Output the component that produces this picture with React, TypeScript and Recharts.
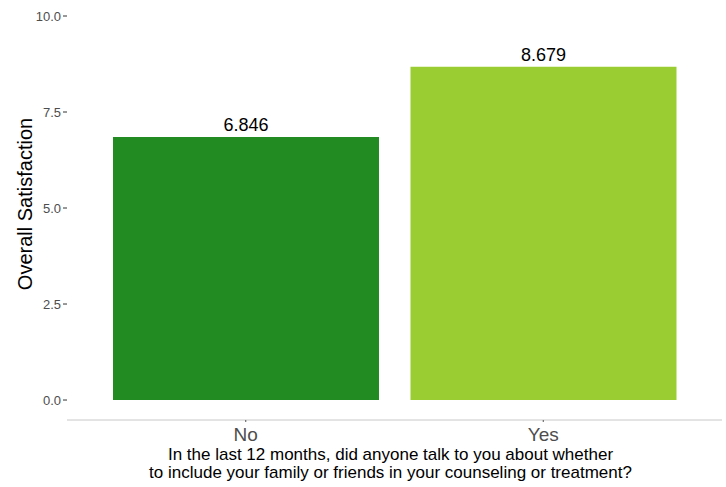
import React from 'react';
import { BarChart, Bar, XAxis, YAxis, Cell, LabelList } from 'recharts';

const categories = ['No', 'Yes'];
const satisfaction = [6.846, 8.679];
const barColors = ['#228B22', '#9ACD32'];
const yTicks = [0, 2.5, 5, 7.5, 10];

const titleLines = [
  'In the last 12 months, did anyone talk to you about whether',
  'to include your family or friends in your counseling or treatment?',
];

const data = categories.map((c, i) => ({ category: c, value: satisfaction[i] }));

const FONT = '"Liberation Sans", Arial, sans-serif';

const XTitle = (props: any) => {
  const vb = props.viewBox || { x: 0, y: 0, width: 0, height: 0 };
  const cx = vb.x + vb.width / 2 - 4;
  return (
    <text x={cx} y={vb.y} textAnchor="middle" fontSize={17} fill="#000" fontFamily={FONT}>
      <tspan x={cx} dy={40}>{titleLines[0]}</tspan>
      <tspan x={cx} dy={18}>{titleLines[1]}</tspan>
    </text>
  );
};

const YTitle = (props: any) => {
  const vb = props.viewBox || { x: 0, y: 0, width: 0, height: 0 };
  const x = 32;
  const y = vb.y + vb.height / 2 - 14;
  return (
    <text
      x={x}
      y={y}
      transform={`rotate(-90, ${x}, ${y})`}
      textAnchor="middle"
      fontSize={20}
      fill="#000"
      fontFamily={FONT}
    >
      Overall Satisfaction
    </text>
  );
};

export default function App() {
  return (
    <div style={{ position: 'absolute', left: 0, top: 0, width: 726, height: 487, background: '#fff' }}>
      <BarChart
        width={726}
        height={487}
        data={data}
        margin={{ top: 16, right: 4, left: 0, bottom: 0 }}
        barCategoryGap={16}
        style={{ fontFamily: FONT }}
      >
        <XAxis
          dataKey="category"
          height={67}
          padding={{ left: 30, right: 30 }}
          axisLine={{ stroke: '#c8c8c8', strokeWidth: 1 }}
          tickLine={{ stroke: '#555' }}
          tickSize={2}
          tickMargin={6}
          tick={{ fontSize: 19, fill: '#4D4D4D', fontFamily: FONT }}
          label={<XTitle />}
        />
        <YAxis
          width={67}
          domain={[-0.52, 10]}
          ticks={yTicks}
          allowDataOverflow
          axisLine={false}
          tickLine={{ stroke: '#333' }}
          tickSize={4}
          tickMargin={2}
          tick={{ fontSize: 13, fill: '#4D4D4D', fontFamily: FONT }}
          tickFormatter={(v: number) => v.toFixed(1)}
          label={<YTitle />}
        />
        <Bar dataKey="value" isAnimationActive={false}>
          {data.map((d, i) => (
            <Cell key={d.category} fill={barColors[i]} />
          ))}
          <LabelList
            dataKey="value"
            position="top"
            offset={6}
            fontSize={18}
            fill="#000"
            fontFamily={FONT}
            formatter={(v: any) => Number(v).toFixed(3)}
          />
        </Bar>
      </BarChart>
    </div>
  );
}
